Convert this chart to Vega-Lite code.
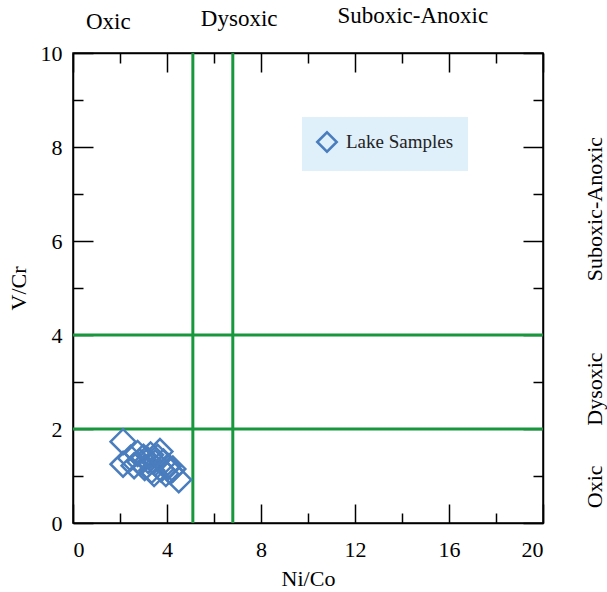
{
  "$schema": "https://vega.github.io/schema/vega-lite/v6.json",
  "width": 470,
  "height": 470,
  "autosize": "none",
  "padding": {"left": 73, "top": 53, "right": 64, "bottom": 69},
  "background": "white",
  "config": {
    "view": {"stroke": "black", "strokeWidth": 1.5},
    "font": "Liberation Serif",
    "axis": {
      "domainColor": "black",
      "domainWidth": 1.5,
      "tickColor": "black",
      "tickWidth": 1.5,
      "labelFont": "Liberation Serif",
      "labelFontSize": 22,
      "labelColor": "black",
      "titleFont": "Liberation Serif",
      "titleFontSize": 22,
      "titleFontWeight": "normal",
      "titleColor": "black",
      "grid": false
    }
  },
  "datasets": {
    "samples": [
      {"ni_co": 2.13, "v_cr": 1.73, "group": "Lake Samples"},
      {"ni_co": 2.13, "v_cr": 1.25, "group": "Lake Samples"},
      {"ni_co": 2.45, "v_cr": 1.38, "group": "Lake Samples"},
      {"ni_co": 2.6, "v_cr": 1.22, "group": "Lake Samples"},
      {"ni_co": 2.75, "v_cr": 1.48, "group": "Lake Samples"},
      {"ni_co": 2.85, "v_cr": 1.3, "group": "Lake Samples"},
      {"ni_co": 3.0, "v_cr": 1.4, "group": "Lake Samples"},
      {"ni_co": 3.05, "v_cr": 1.18, "group": "Lake Samples"},
      {"ni_co": 3.2, "v_cr": 1.33, "group": "Lake Samples"},
      {"ni_co": 3.3, "v_cr": 1.45, "group": "Lake Samples"},
      {"ni_co": 3.35, "v_cr": 1.12, "group": "Lake Samples"},
      {"ni_co": 3.45, "v_cr": 1.05, "group": "Lake Samples"},
      {"ni_co": 3.5, "v_cr": 1.28, "group": "Lake Samples"},
      {"ni_co": 3.6, "v_cr": 1.4, "group": "Lake Samples"},
      {"ni_co": 3.7, "v_cr": 1.52, "group": "Lake Samples"},
      {"ni_co": 3.75, "v_cr": 1.15, "group": "Lake Samples"},
      {"ni_co": 3.85, "v_cr": 1.3, "group": "Lake Samples"},
      {"ni_co": 3.95, "v_cr": 1.05, "group": "Lake Samples"},
      {"ni_co": 4.05, "v_cr": 1.2, "group": "Lake Samples"},
      {"ni_co": 4.15, "v_cr": 1.1, "group": "Lake Samples"},
      {"ni_co": 4.25, "v_cr": 1.15, "group": "Lake Samples"},
      {"ni_co": 4.5, "v_cr": 0.92, "group": "Lake Samples"}
    ]
  },
  "layer": [
    {
      "layer": [
        {
          "data": {"values": [{"ni_co": 5.1}, {"ni_co": 6.8}]},
          "mark": {"type": "rule", "color": "#17983d", "strokeWidth": 3},
          "encoding": {
            "x": {"field": "ni_co", "type": "quantitative", "scale": {"domain": [0, 20], "nice": false}}
          }
        },
        {
          "data": {"values": [{"v_cr": 2}, {"v_cr": 4}]},
          "mark": {"type": "rule", "color": "#17983d", "strokeWidth": 3},
          "encoding": {
            "y": {"field": "v_cr", "type": "quantitative", "scale": {"domain": [0, 10], "nice": false}}
          }
        },
        {
          "data": {"name": "samples"},
          "mark": {"type": "point", "shape": "diamond", "filled": false, "size": 620, "strokeWidth": 2.5, "opacity": 1},
          "encoding": {
            "x": {
              "field": "ni_co", "type": "quantitative",
              "scale": {"domain": [0, 20], "nice": false},
              "axis": {
                "orient": "bottom",
                "values": [0, 2, 4, 6, 8, 10, 12, 14, 16, 18, 20],
                "tickSize": {"condition": {"test": "datum.value % 4 === 0", "value": -19}, "value": -10},
                "labelExpr": "datum.value % 4 === 0 ? datum.label : ''",
                "labelPadding": 35,
                "title": "Ni/Co",
                "titlePadding": 8
              }
            },
            "y": {
              "field": "v_cr", "type": "quantitative",
              "scale": {"domain": [0, 10], "nice": false},
              "axis": {
                "orient": "left",
                "values": [0, 1, 2, 3, 4, 5, 6, 7, 8, 9, 10],
                "tickSize": {"condition": {"test": "datum.value % 2 === 0", "value": -20}, "value": -10},
                "labelExpr": "datum.value % 2 === 0 ? datum.label : ''",
                "labelPadding": 31,
                "title": "V/Cr",
                "titlePadding": 10
              }
            },
            "color": {
              "field": "group", "type": "nominal",
              "scale": {"domain": ["Lake Samples"], "range": ["#4a7dbd"]},
              "legend": {
                "title": null,
                "orient": "none",
                "legendX": 229,
                "legendY": 64,
                "fillColor": "#dff0fa",
                "padding": 14,
                "symbolType": "diamond",
                "symbolSize": 380,
                "symbolStrokeWidth": 2.5,
                "symbolFillColor": "transparent",
                "labelFont": "Liberation Serif",
                "labelFontSize": 19,
                "labelColor": "#222222",
                "labelOffset": 8,
                "labelExpr": "datum.label + '\u00a0\u00a0\u00a0\u00a0'"
              }
            }
          }
        },
        {
          "data": {"values": [
            {"zone": "Oxic", "ni_co": 1.5, "v_cr": 10.52},
            {"zone": "Dysoxic", "ni_co": 7.07, "v_cr": 10.57},
            {"zone": "Suboxic-Anoxic", "ni_co": 14.46, "v_cr": 10.63}
          ]},
          "mark": {"type": "text", "font": "Liberation Serif", "fontSize": 23, "color": "black", "align": "center", "baseline": "alphabetic"},
          "encoding": {
            "x": {"field": "ni_co", "type": "quantitative", "scale": {"domain": [0, 20], "nice": false}},
            "y": {"field": "v_cr", "type": "quantitative", "scale": {"domain": [0, 10], "nice": false}},
            "text": {"field": "zone"}
          }
        },
        {
          "data": {"values": [
            {"zone": "Oxic", "ni_co": 22.2, "v_cr": 0.77},
            {"zone": "Dysoxic", "ni_co": 22.2, "v_cr": 2.85},
            {"zone": "Suboxic-Anoxic", "ni_co": 22.2, "v_cr": 6.68}
          ]},
          "mark": {"type": "text", "font": "Liberation Serif", "fontSize": 22, "color": "black", "align": "center", "baseline": "middle", "angle": 270},
          "encoding": {
            "x": {"field": "ni_co", "type": "quantitative", "scale": {"domain": [0, 20], "nice": false}},
            "y": {"field": "v_cr", "type": "quantitative", "scale": {"domain": [0, 10], "nice": false}},
            "text": {"field": "zone"}
          }
        }
      ]
    },
    {
      "data": {"name": "samples"},
      "mark": {"type": "point", "opacity": 0},
      "encoding": {
        "x": {
          "field": "ni_co", "type": "quantitative",
          "scale": {"domain": [0, 20], "nice": false},
          "axis": {
            "orient": "top",
            "values": [0, 2, 4, 6, 8, 10, 12, 14, 16, 18, 20],
            "tickSize": {"condition": {"test": "datum.value % 4 === 0", "value": -19}, "value": -10},
            "labels": false,
            "title": null
          }
        },
        "y": {
          "field": "v_cr", "type": "quantitative",
          "scale": {"domain": [0, 10], "nice": false},
          "axis": {
            "orient": "right",
            "values": [0, 1, 2, 3, 4, 5, 6, 7, 8, 9, 10],
            "tickSize": {"condition": {"test": "datum.value % 2 === 0", "value": -20}, "value": -10},
            "labels": false,
            "title": null
          }
        }
      }
    }
  ],
  "resolve": {"axis": {"x": "independent", "y": "independent"}}
}
